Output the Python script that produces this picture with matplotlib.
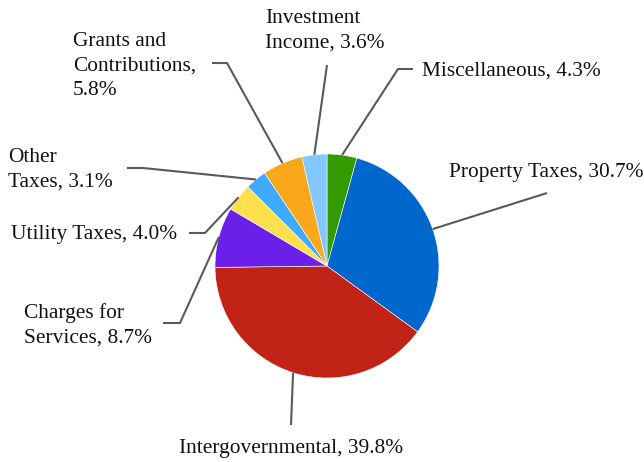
import numpy as np
import matplotlib.pyplot as plt

plt.rcParams['font.family'] = ['Liberation Serif', 'DejaVu Serif']

labels = ['Miscellaneous', 'Property Taxes', 'Intergovernmental', 'Charges for\nServices',
          'Utility Taxes', 'Other\nTaxes', 'Grants and\nContributions,\n', 'Investment\nIncome']
values = [4.3, 30.7, 39.8, 8.7, 4.0, 3.1, 5.8, 3.6]
colors = ['#339a00', '#0068cd', '#c12316', '#6a20e8', '#ffe04c', '#40aafe', '#f9a81c', '#82c8fe']

W, H = 644, 462
cx, cy, r = 327, H - 266, 112

# leader line elbows / ends and label anchors (pixel coords, y from top)
elbows = [[(398, 69), (413, 69)], [(547, 193)], [(291, 425)], [(180, 323), (163, 323)],
          [(205, 233), (189, 233)], [(143, 168), (127, 168)], [(227, 63), (212, 63)], [(327, 65)]]
anchors = [(422, 71, 'left'), (449, 173, 'left'), (291, 449, 'center'), (24, 325, 'left'),
           (11, 235, 'left'), (8, 170, 'left'), (73, 66, 'left'), (265, 31, 'left')]

fig = plt.figure(figsize=(W / 100, H / 100), dpi=100)
ax = fig.add_axes([0, 0, 1, 1])

wedges, _ = ax.pie(values, colors=colors, startangle=90, counterclock=False,
                   center=(cx, cy), radius=r,
                   wedgeprops=dict(edgecolor='white', linewidth=0.4))

for w, v, lab, pts, (tx, ty, ha) in zip(wedges, values, labels, elbows, anchors):
    ang = np.deg2rad((w.theta1 + w.theta2) / 2)
    xs = [cx + r * np.cos(ang)] + [p[0] for p in pts]
    ys = [cy + r * np.sin(ang)] + [H - p[1] for p in pts]
    ax.plot(xs, ys, color='#595959', lw=1.5, solid_capstyle='butt')
    if lab.endswith('\n'):
        txt = lab + f'{v:.1f}%'
    else:
        txt = f'{lab}, {v:.1f}%'
    ax.text(tx, H - ty, txt, ha=ha, va='center', fontsize=15.4, color='#111111',
            linespacing=1.38, multialignment='left')

ax.set_xlim(0, W)
ax.set_ylim(0, H)
ax.set_aspect('equal')
ax.axis('off')

fig.savefig('out.png', dpi=100)
